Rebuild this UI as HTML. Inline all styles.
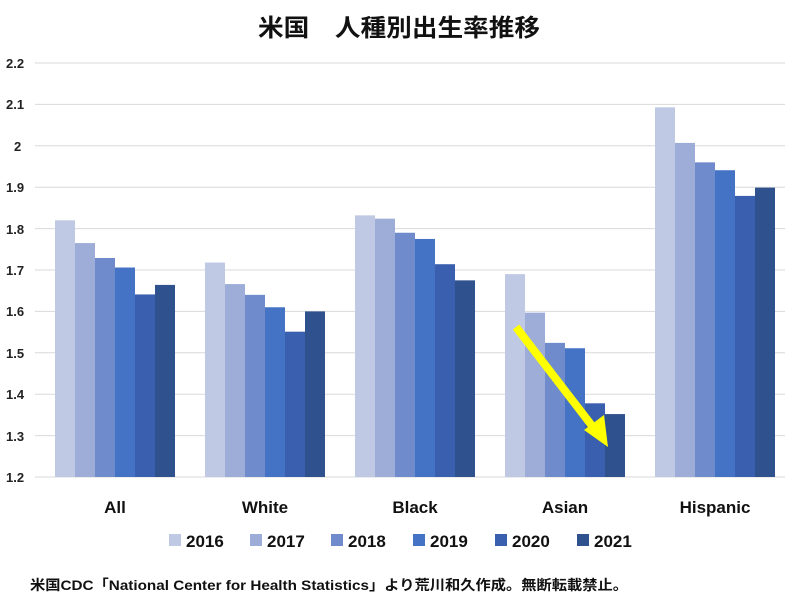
<!DOCTYPE html>
<html><head><meta charset="utf-8"><style>body{margin:0;background:#fff}svg{display:block}</style></head><body>
<svg width="800" height="600" xmlns="http://www.w3.org/2000/svg" font-family="Liberation Sans, Noto Sans CJK JP, sans-serif">
<text x="258" y="36" font-size="24" font-weight="bold" fill="#111" textLength="282" lengthAdjust="spacingAndGlyphs">米国　人種別出生率推移</text>
<g stroke="#d9d9d9" stroke-width="1">
<line x1="35" x2="785" y1="63" y2="63"/><line x1="35" x2="785" y1="104.4" y2="104.4"/><line x1="35" x2="785" y1="145.8" y2="145.8"/><line x1="35" x2="785" y1="187.2" y2="187.2"/><line x1="35" x2="785" y1="228.6" y2="228.6"/><line x1="35" x2="785" y1="270" y2="270"/><line x1="35" x2="785" y1="311.4" y2="311.4"/><line x1="35" x2="785" y1="352.8" y2="352.8"/><line x1="35" x2="785" y1="394.2" y2="394.2"/><line x1="35" x2="785" y1="435.6" y2="435.6"/><line x1="35" x2="785" y1="477" y2="477"/>
</g>
<g font-size="13" font-weight="bold" fill="#222" text-anchor="start">
<text x="6" y="68">2.2</text><text x="6" y="109">2.1</text><text x="14" y="151">2</text><text x="6" y="192">1.9</text><text x="6" y="234">1.8</text><text x="6" y="275">1.7</text><text x="6" y="316">1.6</text><text x="6" y="358">1.5</text><text x="6" y="399">1.4</text><text x="6" y="441">1.3</text><text x="6" y="482">1.2</text>
</g>
<g id="bars"></g>
<g font-size="17" font-weight="bold" fill="#111" text-anchor="middle">
<text x="115" y="513">All</text><text x="265" y="513">White</text><text x="415" y="513">Black</text><text x="565" y="513">Asian</text><text x="715" y="513">Hispanic</text>
</g>
<g font-size="17" font-weight="bold" fill="#111">
<rect x="169" y="534" width="12" height="12" fill="#c0c9e4"/><text x="186" y="547">2016</text>
<rect x="250" y="534" width="12" height="12" fill="#9dadd8"/><text x="267" y="547">2017</text>
<rect x="331" y="534" width="12" height="12" fill="#6f8bcb"/><text x="348" y="547">2018</text>
<rect x="413" y="534" width="12" height="12" fill="#4472c4"/><text x="430" y="547">2019</text>
<rect x="495" y="534" width="12" height="12" fill="#3a5fae"/><text x="512" y="547">2020</text>
<rect x="577" y="534" width="12" height="12" fill="#2f528f"/><text x="594" y="547">2021</text>
</g>
<text x="30" y="590" font-size="14" font-weight="bold" fill="#111" textLength="598" lengthAdjust="spacingAndGlyphs">米国CDC「National Center for Health Statistics」より荒川和久作成。無断転載禁止。</text>
<line x1="516" y1="327" x2="596" y2="431" stroke="#ffff00" stroke-width="8"/>
<polygon points="608,447 584,430 604,415" fill="#ffff00"/>
</svg>
<script>
var d=[[1.820,1.765,1.729,1.706,1.641,1.664],[1.718,1.666,1.640,1.610,1.551,1.600],[1.832,1.824,1.790,1.775,1.714,1.675],[1.690,1.597,1.524,1.511,1.378,1.352],[2.093,2.007,1.960,1.941,1.879,1.899]];
var c=["#c0c9e4","#9dadd8","#6f8bcb","#4472c4","#3a5fae","#2f528f"];
var g=document.getElementById("bars"),s="";
for(var i=0;i<5;i++)for(var j=0;j<6;j++){var y=477-(d[i][j]-1.2)*414;s+='<rect x="'+(55+150*i+20*j)+'" y="'+y+'" width="20" height="'+(477-y)+'" fill="'+c[j]+'"/>';}
g.innerHTML=s;
</script>
</body></html>
